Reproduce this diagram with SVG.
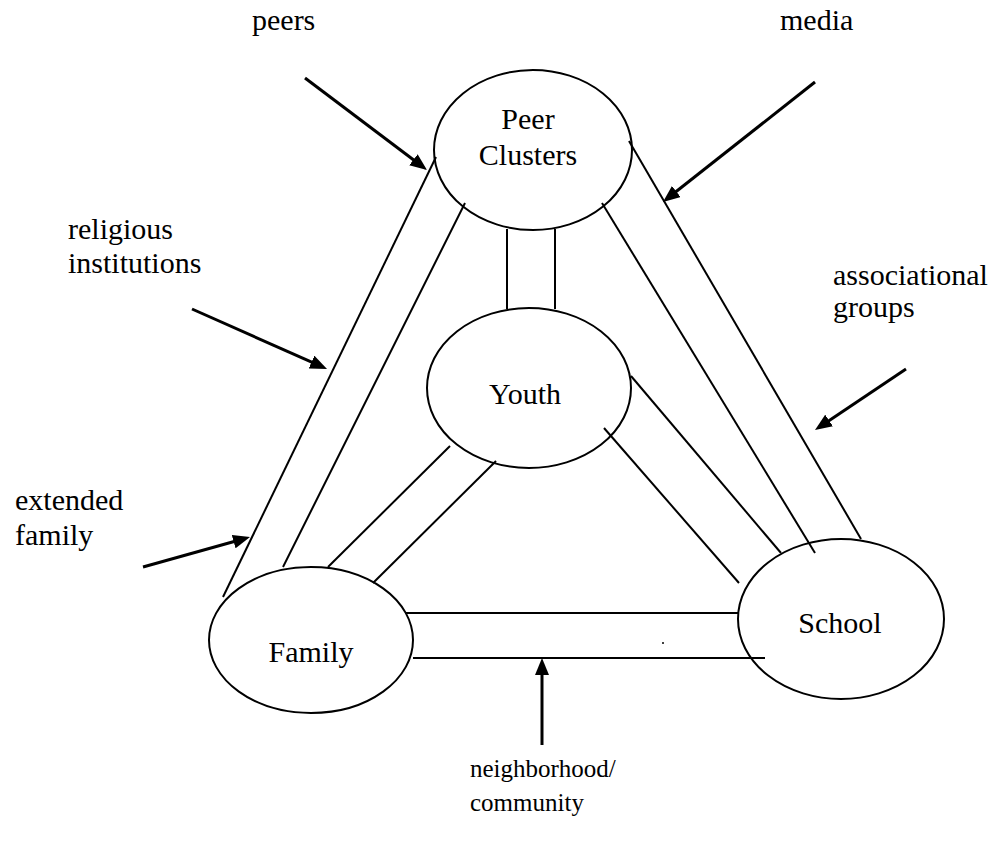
<svg xmlns="http://www.w3.org/2000/svg" width="998" height="850" viewBox="0 0 998 850">
<style>
text{font-family:"Liberation Serif","Times New Roman",serif;font-size:30px;fill:#000}
.c{text-anchor:middle}
.s{font-size:25px}
.node ellipse{fill:none;stroke:#000;stroke-width:2}
.conn line{stroke:#000;stroke-width:2;fill:none}
.arr line{stroke:#000;stroke-width:3}
</style>
<defs>
<marker id="ah" markerUnits="userSpaceOnUse" markerWidth="17" markerHeight="14" refX="7" refY="7" orient="auto">
<path d="M0,0 L17,7 L0,14 z" fill="#000"/>
</marker>
</defs>
<rect width="998" height="850" fill="#fff"/>
<g id="connectors" class="conn">
<line x1="436" y1="157" x2="223" y2="597"/>
<line x1="465" y1="203" x2="283" y2="567"/>
<line x1="507" y1="229" x2="507" y2="309"/>
<line x1="555" y1="229" x2="555" y2="309"/>
<line x1="602" y1="203" x2="815" y2="553"/>
<line x1="629" y1="141" x2="861" y2="539"/>
<line x1="450" y1="446" x2="328" y2="567"/>
<line x1="496" y1="461" x2="373" y2="583"/>
<line x1="631" y1="376" x2="781" y2="553"/>
<line x1="604" y1="428" x2="739" y2="583"/>
<line x1="405" y1="613" x2="738" y2="613"/>
<line x1="413" y1="658" x2="765" y2="658"/>
</g>
<g id="arrows" class="arr">
<line x1="305" y1="78" x2="419" y2="164" marker-end="url(#ah)"/>
<line x1="815" y1="82" x2="670.8" y2="195.8" marker-end="url(#ah)"/>
<line x1="192" y1="309" x2="317.9" y2="364.9" marker-end="url(#ah)"/>
<line x1="906" y1="369" x2="823.3" y2="424.4" marker-end="url(#ah)"/>
<line x1="143" y1="567" x2="240.4" y2="539.7" marker-end="url(#ah)"/>
<line x1="542" y1="745" x2="542" y2="668" marker-end="url(#ah)"/>
</g>
<g id="peer-clusters" class="node">
<ellipse cx="533" cy="150" rx="99" ry="80"/>
<text class="c" x="528" y="129">Peer</text>
<text class="c" x="528" y="165">Clusters</text>
</g>
<g id="youth" class="node">
<ellipse cx="529" cy="388" rx="102" ry="80"/>
<text class="c" x="525" y="404">Youth</text>
</g>
<g id="family" class="node">
<ellipse cx="311" cy="640" rx="102" ry="73"/>
<text class="c" x="311" y="662">Family</text>
</g>
<g id="school" class="node">
<ellipse cx="841" cy="619" rx="103" ry="80"/>
<text class="c" x="840" y="633">School</text>
</g>
<circle cx="663" cy="643" r="1" fill="#000"/>
<g id="labels">
<text x="252" y="30">peers</text>
<text x="780" y="30">media</text>
<text x="68" y="239">religious</text>
<text x="68" y="273">institutions</text>
<text x="833" y="285">associational</text>
<text x="833" y="317">groups</text>
<text x="15" y="510">extended</text>
<text x="15" y="545">family</text>
<text class="s" x="470" y="777">neighborhood/</text>
<text class="s" x="470" y="811">community</text>
</g>
</svg>
